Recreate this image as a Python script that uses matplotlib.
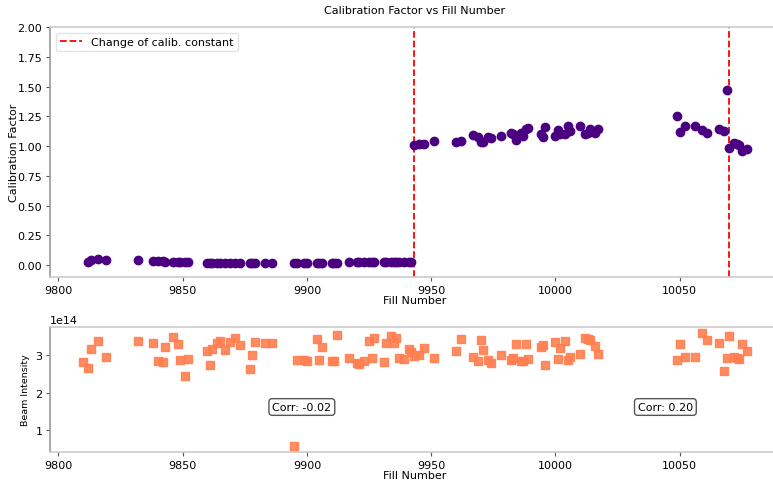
import numpy as np
import matplotlib
matplotlib.use("Agg")
import matplotlib.pyplot as plt

# Calibration factor per fill (top panel)
fill_calib = [9812, 9813, 9816, 9819, 9832, 9838, 9840, 9842, 9843, 9846, 9848, 9849, 9851, 9852,
              9860, 9861, 9862, 9864, 9865, 9867, 9869, 9871, 9873, 9877, 9878, 9879, 9883, 9886,
              9895, 9896, 9899, 9900, 9904, 9905, 9906, 9910, 9911, 9912, 9917, 9920, 9921, 9923,
              9925, 9926, 9927, 9931, 9932, 9934, 9935, 9936, 9937, 9939, 9941, 9942,
              9943, 9945, 9947, 9951, 9960, 9962, 9967, 9969, 9970, 9971, 9973, 9974, 9978,
              9982, 9983, 9984, 9986, 9987, 9988, 9989, 9994, 9995, 9996, 10000, 10001, 10002,
              10004, 10005, 10006, 10010, 10012, 10013, 10014, 10016, 10017,
              10049, 10050, 10052, 10056, 10059, 10061, 10066, 10068, 10069, 10070, 10072, 10073,
              10074, 10075, 10077]
calib = [0.030, 0.045, 0.048, 0.044, 0.042, 0.036, 0.038, 0.032, 0.028, 0.026, 0.026, 0.025, 0.024, 0.024,
         0.021, 0.020, 0.020, 0.020, 0.020, 0.021, 0.020, 0.020, 0.019, 0.021, 0.020, 0.019, 0.017, 0.017,
         0.019, 0.021, 0.021, 0.020, 0.019, 0.020, 0.019, 0.021, 0.021, 0.019, 0.023, 0.022, 0.022, 0.023,
         0.026, 0.030, 0.030, 0.026, 0.026, 0.026, 0.026, 0.026, 0.025, 0.025, 0.026, 0.026,
         1.010, 1.020, 1.020, 1.044, 1.030, 1.044, 1.090, 1.080, 1.035, 1.035, 1.080, 1.070, 1.085,
         1.110, 1.100, 1.055, 1.110, 1.085, 1.145, 1.150, 1.100, 1.080, 1.160, 1.085, 1.135, 1.100,
         1.100, 1.167, 1.130, 1.170, 1.100, 1.110, 1.140, 1.110, 1.145,
         1.250, 1.120, 1.170, 1.165, 1.133, 1.108, 1.140, 1.125, 1.475, 0.985, 1.025, 1.017,
         1.010, 0.955, 0.975]

# Beam intensity per fill (bottom panel)
fill_beam = [9810] + fill_calib
beam = [2.82, 2.67, 3.16, 3.38, 2.95, 3.40, 3.34, 2.86, 2.82, 3.22, 3.49, 3.31, 2.89, 2.46, 2.91,
        3.11, 2.75, 3.18, 3.33, 3.38, 3.15, 3.35, 3.47, 3.27, 2.64, 3.02, 3.37, 3.33, 3.33,
        0.56, 2.87, 2.87, 2.84, 3.45, 2.88, 3.23, 2.85, 2.86, 3.54, 2.94, 2.80, 2.77, 2.84,
        3.40, 2.92, 3.48, 2.82, 3.33, 3.52, 3.34, 3.46, 2.93, 2.91, 3.18, 3.09,
        2.98, 3.02, 3.20, 2.93, 3.13, 3.45, 2.97, 2.84, 3.42, 3.15, 2.87, 2.80, 3.00,
        2.88, 2.93, 3.31, 2.84, 2.84, 3.30, 2.91, 3.22, 3.27, 2.75, 3.36, 2.91, 3.20,
        3.38, 2.88, 2.96, 3.03, 3.47, 3.45, 3.42, 3.25, 3.04,
        2.87, 3.31, 2.97, 2.96, 3.61, 3.42, 3.34, 2.58, 2.93, 3.51, 2.96, 2.94,
        2.91, 3.30, 3.13]
beam = [b * 1e14 for b in beam]

calib_changes = [9943, 10070]
corr_texts = ["Corr: -0.02", "Corr: 0.20"]
corr_pos = [0.345, 0.843]

fs = 8
W, H = 773, 481
fig = plt.figure(figsize=(W / 100, H / 100), dpi=100)
left = 50 / W
width = (780 - 50) / W
ax1 = fig.add_axes([left, 1 - 278 / H, width, 250 / H])
ax2 = fig.add_axes([left, 1 - 453 / H, width, 125 / H])

## top panel
ax1.scatter(fill_calib, calib, color='indigo', s=36, zorder=3)
for i, fc in enumerate(calib_changes):
    ax1.axvline(fc, color='red', linestyle='--', linewidth=1.3,
                label='Change of calib. constant' if i == 0 else None)
ax1.set_ylim(-0.1, 2.0)
ax1.set_yticks(np.arange(0, 2.01, 0.25))
ax1.set_ylabel('Calibration Factor', fontsize=fs)
ax1.yaxis.set_label_coords(-0.043, 0.5)
ax1.set_xlabel('Fill Number', fontsize=fs, labelpad=0)
ax1.set_title('Calibration Factor vs Fill Number', fontsize=fs, pad=10)
ax1.legend(loc='upper left', fontsize=fs, frameon=True, edgecolor='#dddddd', fancybox=True)

## bottom panel
ax2.scatter(fill_beam, beam, color='coral', marker='s', s=28, alpha=0.9, zorder=3)
ax2.set_ylabel('Beam Intensity', fontsize=6.8)
ax2.set_xlabel('Fill Number', fontsize=fs, labelpad=0)
for txt, xp in zip(corr_texts, corr_pos):
    ax2.text(xp, 0.36, txt, transform=ax2.transAxes, fontsize=fs, ha='center', va='center',
             bbox=dict(boxstyle='round,pad=0.3', facecolor='white', edgecolor='#555555'))
ax2.yaxis.get_offset_text().set_fontsize(fs)

xlo = 9796.65
xhi = 10090.35
for ax in (ax1, ax2):
    ax.set_xlim(xlo, xhi)
    ax.tick_params(labelsize=fs, length=3, pad=2.5, color='#555555')
    ax.spines['left'].set_color('#999999')
    ax.spines['top'].set_color('#cccccc')
    ax.spines['bottom'].set_color('#cccccc')
    ax.spines['right'].set_visible(False)
    for sp in ax.spines.values(): sp.set_linewidth(1.2)

fig.savefig('out.png', dpi=100)
